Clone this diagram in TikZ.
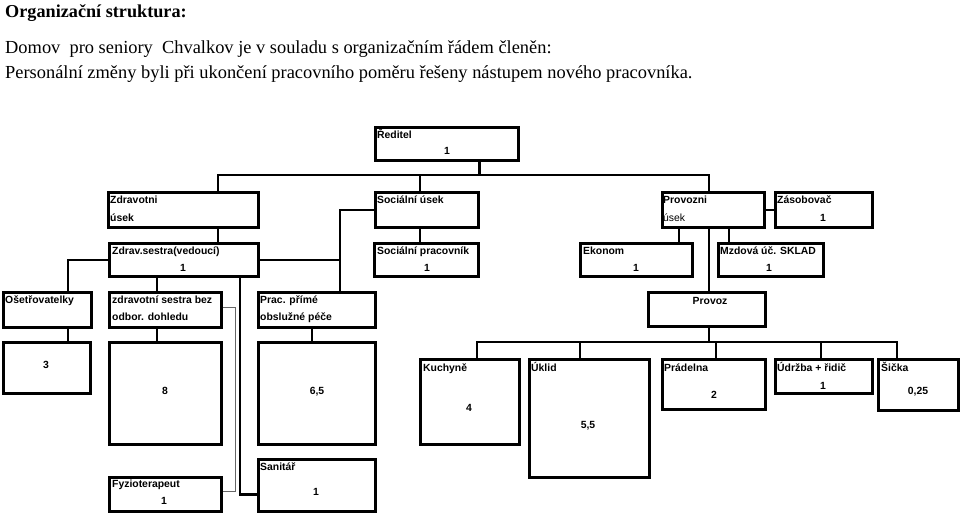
\documentclass[tikz,border=0pt]{standalone}
\usepackage{fontspec}
\setmainfont{Liberation Serif}
\newfontfamily\arial{Liberation Sans}
\usepackage{tikz}
\usetikzlibrary{positioning,calc}

\begin{document}
\begin{tikzpicture}[x=1pt, y=-1pt,
  box/.style 2 args={draw, line width=2.6pt, inner sep=0pt, anchor=north west, minimum width=#1, minimum height=#2},
  txt/.style={font=\arial\bfseries\fontsize{10.4}{12}\selectfont, inner sep=0pt, anchor=base west},
  num/.style={txt, anchor=base},
  head/.style={inner sep=0pt, anchor=base west, font=\fontsize{18.4}{20}\selectfont},
  ln/.style={line width=2.6pt}, thin/.style={line width=0.8pt, black!60}]
\useasboundingbox (0,0) rectangle (960,513);
% uvod
\node[head, font=\bfseries\fontsize{18.2}{20}\selectfont] (title) at (5,18) {Organizační struktura:};
\node[head] (intro1) at (5,54) {Domov\ \ pro seniory\ \ Chvalkov je v souladu s organizačním řádem členěn:};
\node[head] (intro2) at (5,79) {Personální změny byli při ukončení pracovního poměru řešeny nástupem nového pracovníka.};
% vedeni a useky
\node[box={143}{33}] (red) at (374,126) {};
\node[box={150}{35}] (zdrU) at (107,191) {};
\node[box={103}{35}] (socU) at (374,191) {};
\node[box={102}{35}] (provU) at (661,191) {};
\node[box={97}{35}] (zas) at (774,191) {};
% vedouci pozice
\node[box={149}{33}] (zsv) at (108,242) {};
\node[box={104}{33}] (socP) at (373,242) {};
\node[box={112}{33}] (ekon) at (579,242) {};
\node[box={105}{33}] (mzd) at (717,242) {};
% skupiny
\node[box={88}{35}] (oset) at (2,291) {};
\node[box={112}{35}] (zsb) at (108,291) {};
\node[box={117}{35}] (prac) at (257,291) {};
\node[box={117}{34}] (provoz) at (647,291) {};
\node[box={87}{51}] (n3) at (2,341) {};
\node[box={112}{102}] (n8) at (108,341) {};
\node[box={117}{102}] (n65) at (257,341) {};
\node[box={99}{85}] (kuch) at (419,358) {};
\node[box={120}{118}] (ukl) at (528,358) {};
\node[box={103}{50}] (prad) at (661,358) {};
\node[box={97}{34}] (udr) at (774,358) {};
\node[box={80}{51}] (sic) at (877,358) {};
\node[box={112}{34}] (fyz) at (108,476) {};
\node[box={117}{52}] (san) at (257,458) {};
% texty
\node[txt] (red-t) at (377,139) {Ředitel}; \node[num] (red-n) at (447,155) {1};
\node[txt] (zdrU-t) at (110,204) {Zdravotni}; \node[txt] (zdrU-u) at (110,221) {úsek};
\node[txt] (socU-t) at (377,203) {Sociální úsek};
\node[txt] (provU-t) at (663,203) {Provozni};
\node[txt, font=\arial\fontsize{10.4}{12}\selectfont] (provU-u) at (663,221) {úsek};
\node[txt] (zas-t) at (777,203) {Zásobovač}; \node[num] (zas-n) at (823,221) {1};
\node[txt] (zsv-t) at (112,254) {Zdrav.sestra(vedoucí)}; \node[num] (zsv-n) at (183,271) {1};
\node[txt] (socP-t) at (377,254) {Sociální pracovník}; \node[num] (socP-n) at (427,271) {1};
\node[txt] (ekon-t) at (583,254) {Ekonom}; \node[num] (ekon-n) at (636,271) {1};
\node[txt] (mzd-t) at (720,254) {Mzdová úč. SKLAD}; \node[num] (mzd-n) at (769,271) {1};
\node[txt] (oset-t) at (5,303) {Ošetřovatelky};
\node[txt] (zsb-t) at (112,303) {zdravotní sestra bez}; \node[txt] (zsb-u) at (112,320) {odbor. dohledu};
\node[txt] (prac-t) at (260,303) {Prac. přímé}; \node[txt] (prac-u) at (260,320) {obslužné péče};
\node[num] (provoz-t) at (710,304) {Provoz};
\node[num] (n3-t) at (46,368) {3};
\node[num] (n8-t) at (165,394) {8};
\node[num] (n65-t) at (317,394) {6,5};
\node[txt] (kuch-t) at (423,371) {Kuchyně}; \node[num] (kuch-n) at (469,411) {4};
\node[txt] (ukl-t) at (531,371) {Úklid}; \node[num] (ukl-n) at (588,428) {5,5};
\node[txt] (prad-t) at (664,371) {Prádelna}; \node[num] (prad-n) at (714,398) {2};
\node[txt] (udr-t) at (777,371) {Údržba + řidič}; \node[num] (udr-n) at (823,389) {1};
\node[txt] (sic-t) at (881,371) {Šička}; \node[num] (sic-n) at (918,394) {0,25};
\node[txt] (fyz-t) at (112,487) {Fyzioterapeut}; \node[num] (fyz-n) at (164,504) {1};
\node[txt] (san-t) at (260,470) {Sanitář}; \node[num] (san-n) at (316,495) {1};
% spoje
\coordinate (busA) at (218,175); \coordinate (busB) at (709,175);
\draw[ln] (red.south -| socU.east) -- (socU.east |- busA);
\draw[ln] ([xshift=111pt]zdrU.north west) |- (busA) -- (busB) -- ([xshift=48pt]provU.north west);
\draw[ln] ([xshift=46pt]socU.north west) -- ++(0,-16);
\draw[ln] (provU.east) -- (zas.west);
\draw[ln] (socU.west) -| ([xshift=83pt]prac.north west);
\draw[ln] ([xshift=111pt]zdrU.south west) -- ++(0,16); \draw[ln] ([xshift=46pt]socU.south west) -- ++(0,16);
\draw[ln] ([xshift=18pt]provU.south west) -- ++(0,16); \draw[ln] ([xshift=68pt]provU.south west) -- ++(0,16);
\draw[ln] ([xshift=48pt]provU.south west) -- ([xshift=62pt]provoz.north west);
\draw[ln] (zsv.west) -| ([xshift=66pt]oset.north west);
\draw[ln] ([xshift=49pt]zsv.south west) -- ([xshift=49pt]zsb.north west);
\draw[ln] (zsv.east) -| ([xshift=83pt]prac.north west);
\draw[ln] ([xshift=132pt]zsv.south west) |- ([yshift=-9pt]san.west);
\draw[thin] ([yshift=2.5pt]zsb.east) -- ++(13,0) |- ([yshift=3pt]fyz.east);
\draw[ln] ([xshift=66pt]oset.south west) -- ([xshift=66pt]n3.north west);
\draw[ln] ([xshift=49pt]zsb.south west) -- ([xshift=49pt]n8.north west);
\draw[ln] ([xshift=55pt]prac.south west) -- ([xshift=55pt]n65.north west);
\coordinate (busC) at (477,342); \coordinate (busD) at (897,342);
\draw[ln] ([xshift=62pt]provoz.south west) -- ([xshift=62pt]provoz.south west |- busC);
\draw[ln] ([xshift=58pt]kuch.north west) |- (busC) -- (busD) -- ([xshift=20pt]sic.north west);
\draw[ln] ([xshift=52pt]ukl.north west) -- ++(0,-16); \draw[ln] ([xshift=55pt]prad.north west) -- ++(0,-16);
\draw[ln] ([xshift=47pt]udr.north west) -- ++(0,-16);
\end{tikzpicture}
\end{document}
